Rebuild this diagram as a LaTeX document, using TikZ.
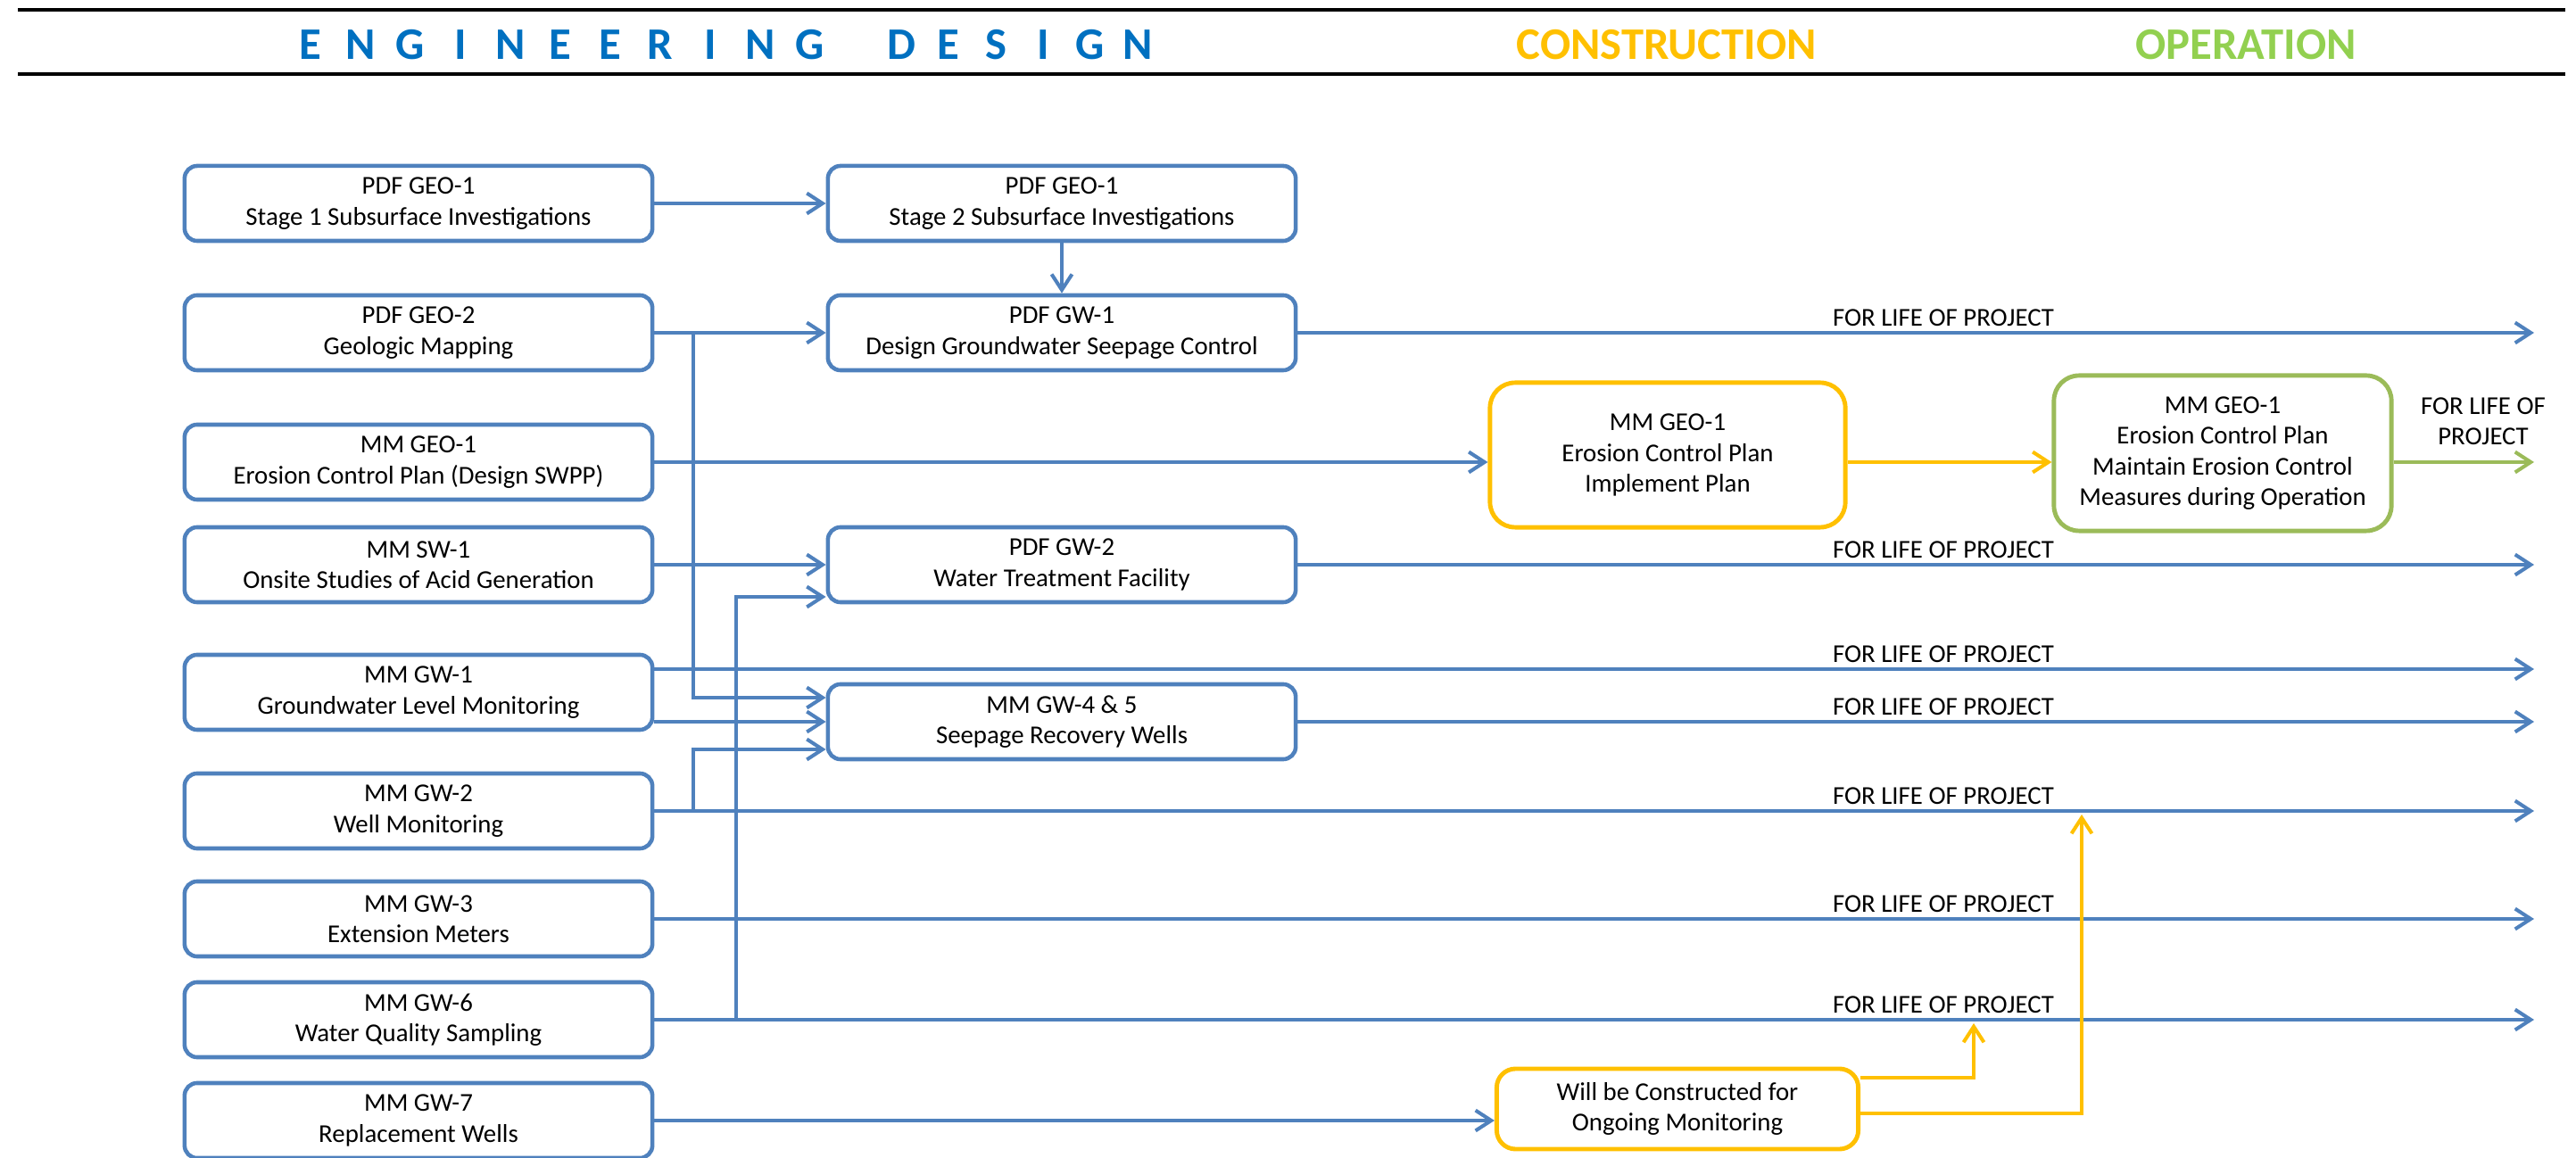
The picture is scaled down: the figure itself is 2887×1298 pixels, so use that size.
\documentclass[tikz,border=0pt]{standalone}
\usepackage{fontspec}
\setmainfont{Carlito}
\usetikzlibrary{arrows.meta}
\definecolor{mmblue}{RGB}{79,129,189}
\definecolor{mmgold}{RGB}{255,192,0}
\definecolor{mmgreen}{RGB}{155,187,89}
\definecolor{hdblue}{RGB}{0,112,192}
\definecolor{hdgreen}{RGB}{146,208,80}
\newcommand{\boxstrut}{\rule{0pt}{9pt}}

\begin{document}
\begin{tikzpicture}[x=0.01cm,y=-0.01cm,
  txt/.style={font=\fontsize{8.2}{9.8}\selectfont,align=center,inner sep=0pt},
  box/.style={txt,draw=mmblue,line width=1.3pt,rounded corners=4pt,minimum width=5.24cm,minimum height=0.84cm,execute at begin node=\boxstrut},
  impl/.style={txt,draw=mmgold,line width=1.4pt,rounded corners=8pt,minimum width=3.98cm,minimum height=1.62cm},
  maint/.style={txt,draw=mmgreen,line width=1.4pt,rounded corners=8pt,minimum width=3.78cm,minimum height=1.74cm},
  hd/.style={font=\fontsize{14.4}{16}\selectfont\bfseries,anchor=base,inner sep=0pt},
  life/.style={txt,anchor=base,yshift=2pt},
  arr/.style={draw=mmblue,line width=1.15pt,-{Straight Barb[length=5pt,width=6.5pt]}},
  arrY/.style={arr,draw=mmgold},
  arrG/.style={arr,draw=mmgreen}]
\useasboundingbox (0,0) rectangle (2887,1298);

% Header
\draw[line width=1pt] (20,11) -- (2875,11);
\draw[line width=1pt] (20,83) -- (2875,83);
\foreach \c [count=\i from 0] in {E,N,G,I,N,E,E,R,I,N,G}
  \node[hd,text=hdblue] (eng\i) at (348+56*\i,67) {\c};
\foreach \c [count=\i from 0] in {D,E,S,I,G,N}
  \node[hd,text=hdblue] (des\i) at (1010+53*\i,67) {\c};
\node[hd,text=mmgold] (hcon) at (1868,67) {CONSTRUCTION};
\node[hd,text=hdgreen] (hop) at (2517,67) {OPERATION};

% Design boxes
\node[box] (geo1) at (469,228) {PDF GEO-1\\Stage 1 Subsurface Investigations};
\node[box] (geo2) at (469,373) {PDF GEO-2\\Geologic Mapping};
\node[box] (mgeo) at (469,518) {MM GEO-1\\Erosion Control Plan (Design SWPP)};
\node[box] (sw1) at (469,633) {MM SW-1\\Onsite Studies of Acid Generation};
\node[box] (gw1) at (469,776) {MM GW-1\\Groundwater Level Monitoring};
\node[box] (gw2) at (469,909) {MM GW-2\\Well Monitoring};
\node[box] (gw3) at (469,1030) {MM GW-3\\Extension Meters};
\node[box] (gw6) at (469,1143) {MM GW-6\\Water Quality Sampling};
\node[box] (gw7) at (469,1256) {MM GW-7\\Replacement Wells};

\node[box] (geo1b) at (1190,228) {PDF GEO-1\\Stage 2 Subsurface Investigations};
\node[box] (gwa) at (1190,373) {PDF GW-1\\Design Groundwater Seepage Control};
\node[box] (gwb) at (1190,633) {PDF GW-2\\Water Treatment Facility};
\node[box] (gwc) at (1190,809) {MM GW-4 \& 5\\Seepage Recovery Wells};

% Construction and operation
\node[impl] (impl) at (1869,510) {MM GEO-1\\Erosion Control Plan\\Implement Plan};
\node[maint] (maint) at (2491,508) {MM GEO-1\\Erosion Control Plan\\Maintain Erosion Control\\Measures during Operation};
\node[impl,minimum width=4.05cm,minimum height=0.9cm,rounded corners=6pt] (build) at (1880,1243) {Will be Constructed for\\Ongoing Monitoring};
\node[txt] (lifem) at (2783,472) {FOR LIFE OF\\PROJECT};

% Life of project lines
\foreach \n/\y in {a/373,b/633,c/750,d/809,e/909,f/1030,g/1143} {
  \coordinate (end\n) at (2840,\y);
  \node[life] (life\n) at (2178,\y) {FOR LIFE OF PROJECT};
}
\coordinate (endm) at (2840,518);
\coordinate (busA) at (777,0);
\coordinate (busB) at (825,0);
\coordinate (tapg) at (2212,1147);
\coordinate (tape) at (2333,913);

% Connectors
\draw[arr] (geo1) -- (geo1b);
\draw[arr] (geo1b) -- (gwa);
\draw[arr] (geo2) -- (gwa);
\draw[arr] (geo2 -| busA) |- (gwc.west |- 0,782);
\draw[arr] (gw1.east |- gwc) -- (gwc);
\draw[arr] (gw2 -| busA) |- (gwc.west |- 0,840);
\draw[arr] (sw1) -- (gwb);
\draw[arr] (gw6 -| busB) |- (gwb.west |- 0,669);
\draw[arr] (gwa) -- (enda);
\draw[arr] (gwb) -- (endb);
\draw[arr] (gw1.east |- endc) -- (endc);
\draw[arr] (gwc) -- (endd);
\draw[arr] (gw2) -- (ende);
\draw[arr] (gw3) -- (endf);
\draw[arr] (gw6) -- (endg);
\draw[arr] (mgeo) -- (impl.west |- mgeo);
\draw[arrY] (impl.east |- mgeo) -- (maint.west |- mgeo);
\draw[arrG] (maint.east |- mgeo) -- (endm);
\draw[arr] (gw7) -- (build.west |- gw7);
\draw[arrY] (build.east |- 0,1208) -| (tapg);
\draw[arrY] (build.east |- 0,1248) -| (tape);
\end{tikzpicture}
\end{document}
